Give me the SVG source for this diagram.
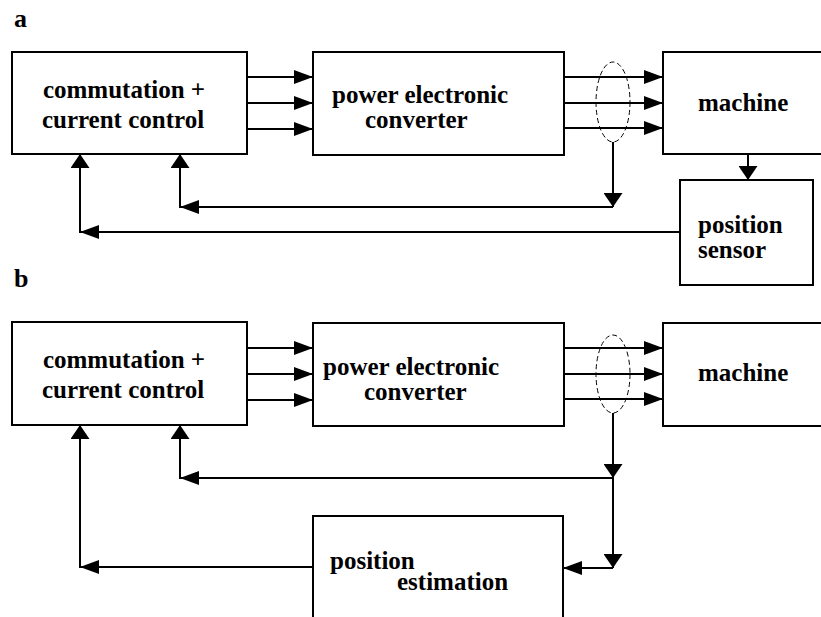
<svg xmlns="http://www.w3.org/2000/svg" width="821" height="617" viewBox="0 0 821 617" font-family="Liberation Serif, DejaVu Serif, serif">
  <defs>
    <!-- arrowheads: horizontal runs use a long head, vertical runs a short wide one -->
    <marker id="ah" markerUnits="userSpaceOnUse" viewBox="0 0 19 14" refX="19" refY="7" markerWidth="19" markerHeight="14" orient="auto">
      <path d="M0,0 L19,7 L0,14 Z" fill="#000"/>
    </marker>
    <marker id="av" markerUnits="userSpaceOnUse" viewBox="0 0 14 19" refX="14" refY="9.5" markerWidth="14" markerHeight="19" orient="auto">
      <path d="M0,0 L14,9.5 L0,19 Z" fill="#000"/>
    </marker>
    <style>
      .box { fill: #fff; stroke: #000; stroke-width: 2; }
      .lbl { font-family: 'Liberation Serif', 'DejaVu Serif', serif; font-weight: 700; font-size: 25px; fill: #000; }
      .tag { font-family: 'Liberation Serif', 'DejaVu Serif', serif; font-weight: 700; font-size: 26px; fill: #000; }
      .c { text-anchor: middle; }
      .wire { fill: none; stroke: #000; stroke-width: 2; }
      .h { marker-end: url(#ah); }
      .v { marker-end: url(#av); }
      .bundle { fill: none; stroke: #000; stroke-width: 1; stroke-dasharray: 5 3; }
    </style>
  </defs>

  <rect width="821" height="617" fill="#fff"/>

  <!-- panel a -->
  <text class="tag" x="14" y="27">a</text>

  <g id="a-control">
    <rect class="box" x="12" y="52" width="235" height="102"/>
    <text class="lbl c" x="124" y="98">commutation +</text>
    <text class="lbl c" x="123" y="128">current control</text>
  </g>
  <g id="a-converter">
    <rect class="box" x="313" y="52" width="251" height="103"/>
    <text class="lbl" x="332" y="103">power electronic</text>
    <text class="lbl" x="365" y="128">converter</text>
  </g>
  <g id="a-machine">
    <rect class="box" x="663" y="52" width="180" height="102"/>
    <text class="lbl" x="698" y="111">machine</text>
  </g>
  <g id="a-sensor">
    <rect class="box" x="680" y="180" width="133" height="105"/>
    <text class="lbl" x="698" y="233">position</text>
    <text class="lbl" x="698" y="258">sensor</text>
  </g>

  <g id="a-connectors">
    <path class="wire h" d="M247,77 H313"/>
    <path class="wire h" d="M247,103 H313"/>
    <path class="wire h" d="M247,129 H313"/>
    <path class="wire h" d="M564,77 H663"/>
    <path class="wire h" d="M564,103 H663"/>
    <path class="wire h" d="M564,128 H663"/>
    <ellipse class="bundle" cx="613" cy="102" rx="17" ry="40"/>
    <path class="wire v" d="M613,142 V207"/>
    <path class="wire h" d="M613,207 H180"/>
    <path class="wire v" d="M180,208 V154"/>
    <path class="wire v" d="M748,154 V180"/>
    <path class="wire h" d="M680,232 H80"/>
    <path class="wire v" d="M80,233 V154"/>
  </g>

  <!-- panel b -->
  <text class="tag" x="14" y="287">b</text>

  <g id="b-control">
    <rect class="box" x="12" y="322" width="235" height="103"/>
    <text class="lbl c" x="124" y="368">commutation +</text>
    <text class="lbl c" x="123" y="398">current control</text>
  </g>
  <g id="b-converter">
    <rect class="box" x="313" y="323" width="251" height="103"/>
    <text class="lbl" x="323" y="375">power electronic</text>
    <text class="lbl" x="364" y="400">converter</text>
  </g>
  <g id="b-machine">
    <rect class="box" x="663" y="323" width="180" height="103"/>
    <text class="lbl" x="698" y="381">machine</text>
  </g>
  <g id="b-estimator">
    <rect class="box" x="313" y="516" width="250" height="130"/>
    <text class="lbl" x="330" y="569">position</text>
    <text class="lbl" x="397" y="590">estimation</text>
  </g>

  <g id="b-connectors">
    <path class="wire h" d="M247,348 H313"/>
    <path class="wire h" d="M247,374 H313"/>
    <path class="wire h" d="M247,400 H313"/>
    <path class="wire h" d="M564,348 H663"/>
    <path class="wire h" d="M564,374 H663"/>
    <path class="wire h" d="M564,399 H663"/>
    <ellipse class="bundle" cx="613" cy="374" rx="17" ry="39"/>
    <path class="wire v" d="M613,413 V478"/>
    <path class="wire v" d="M613,478 V568"/>
    <path class="wire h" d="M613,568 H563"/>
    <path class="wire h" d="M613,478 H180"/>
    <path class="wire v" d="M180,479 V425"/>
    <path class="wire h" d="M313,567 H80"/>
    <path class="wire v" d="M80,568 V425"/>
  </g>
</svg>
